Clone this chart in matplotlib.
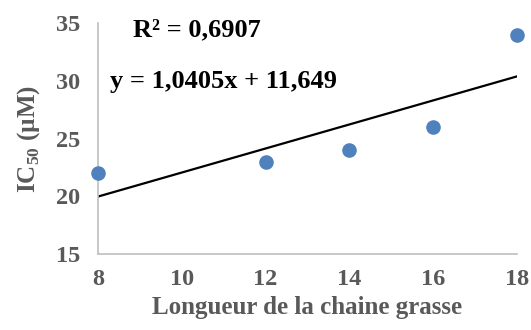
import numpy as np
import matplotlib
matplotlib.use("Agg")
import matplotlib.pyplot as plt

plt.rcParams['font.family'] = ['Liberation Serif', 'DejaVu Serif']
plt.rcParams['font.weight'] = 'bold'
plt.rcParams['mathtext.fontset'] = 'custom'
plt.rcParams['mathtext.bf'] = 'Liberation Serif:bold'
plt.rcParams['mathtext.rm'] = 'Liberation Serif:bold'

# longueur de chaine vs IC50
chain_length = [8, 12, 14, 16, 18]
ic50 = [22, 23, 24, 26, 34]
slope, intercept = 1.0405, 11.649
r2 = 0.6907

gray = '#595959'
fig = plt.figure(figsize=(5.31, 3.30), dpi=100)
ax = fig.add_axes([0.1846, 0.2303, 0.789, 0.700])

xf = np.array([8, 18])
ax.plot(xf, slope * xf + intercept, color='black', lw=1.6, zorder=2)
ax.plot(chain_length, ic50, 'o', color='#4F81BD', markersize=10.5,
        markeredgewidth=0, zorder=3, clip_on=False)

ax.set_xlim(8, 18)
ax.set_ylim(15, 35)
ax.set_xticks(np.arange(8, 19, 2))
ax.set_yticks(np.arange(15, 36, 5))
ax.tick_params(length=0, labelsize=17.5, colors=gray)
ax.tick_params(axis='y', pad=13)
ax.tick_params(axis='x', pad=11)
for lab in ax.get_xticklabels() + ax.get_yticklabels():
    lab.set_fontweight('bold')

for s in ['top', 'right']:
    ax.spines[s].set_visible(False)
for s in ['left', 'bottom']:
    ax.spines[s].set_color('#BFBFBF')
    ax.spines[s].set_linewidth(1.2)

ax.set_xlabel('Longueur de la chaine grasse', fontsize=18,
              fontweight='bold', color=gray, labelpad=4)
ax.set_ylabel(r'IC$_{50}$ (µM)', fontsize=18, fontweight='bold',
              color=gray, labelpad=10)

ax.text(8.84, 34.4, 'R² = ' + f'{r2:.4f}'.replace('.', ','), fontsize=19,
        fontweight='bold', va='center', ha='left')
ax.text(8.29, 29.9,
        'y = ' + f'{slope:.4f}'.replace('.', ',') + 'x + '
        + f'{intercept:.3f}'.replace('.', ','),
        fontsize=19, fontweight='bold', va='center', ha='left')

fig.savefig('out.png', dpi=100)
